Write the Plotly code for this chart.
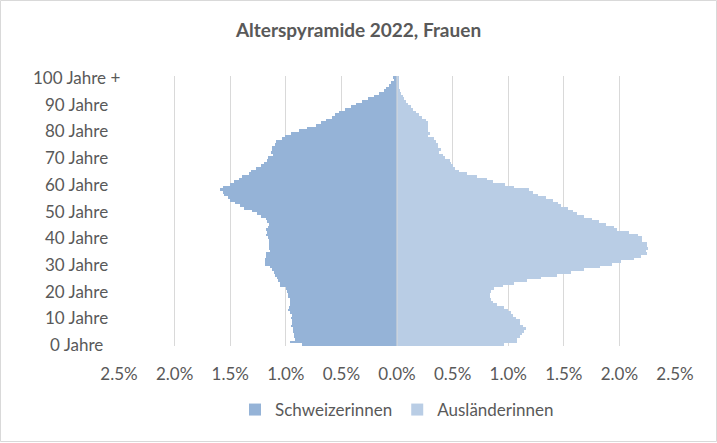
import plotly.graph_objects as go

ages = list(range(0, 101))

schweizerinnen = [
    0.852, 0.96, 0.915, 0.924, 0.924, 0.933, 0.933, 0.951, 0.942, 0.942,
    0.951, 0.942, 0.96, 0.978, 0.969, 0.96, 0.96, 0.96, 0.978, 0.978,
    0.987, 0.996, 1.05, 1.05, 1.068, 1.08, 1.095, 1.11, 1.12, 1.14,
    1.185, 1.185, 1.19, 1.18, 1.175, 1.145, 1.155, 1.15, 1.148, 1.148,
    1.16, 1.175, 1.167, 1.18, 1.16, 1.155, 1.17, 1.176, 1.221, 1.257,
    1.302, 1.374, 1.41, 1.455, 1.5, 1.518, 1.554, 1.563, 1.59, 1.563,
    1.5, 1.464, 1.419, 1.392, 1.329, 1.311, 1.266, 1.221, 1.194, 1.167,
    1.158, 1.116, 1.131, 1.122, 1.122, 1.095, 1.086, 1.032, 1.005, 0.951,
    0.879, 0.807, 0.726, 0.681, 0.636, 0.582, 0.555, 0.519, 0.465, 0.411,
    0.366, 0.312, 0.258, 0.204, 0.165, 0.12, 0.096, 0.069, 0.051, 0.03,
    0.04,
]

auslaenderinnen = [
    0.965, 1.082, 1.082, 1.109, 1.127, 1.145, 1.163, 1.136, 1.109, 1.109,
    1.073, 1.046, 1.028, 1.0, 0.965, 0.902, 0.866, 0.848, 0.839, 0.839,
    0.848, 0.875, 0.956, 1.055, 1.172, 1.298, 1.442, 1.568, 1.685, 1.829,
    1.936, 2.017, 2.134, 2.197, 2.251, 2.242, 2.26, 2.251, 2.251, 2.2,
    2.2, 2.17, 2.089, 1.98, 1.955, 1.883, 1.82, 1.757, 1.685, 1.62,
    1.586, 1.54, 1.478, 1.45, 1.406, 1.343, 1.27, 1.226, 1.19, 1.055,
    0.974, 0.866, 0.812, 0.722, 0.632, 0.56, 0.525, 0.5, 0.49, 0.48,
    0.435, 0.417, 0.38, 0.399, 0.372, 0.372, 0.354, 0.336, 0.282, 0.3,
    0.282, 0.282, 0.282, 0.282, 0.264, 0.228, 0.2, 0.174, 0.147, 0.129,
    0.102, 0.084, 0.066, 0.057, 0.039, 0.03, 0.02, 0.015, 0.012, 0.01,
    0.01,
]

y_tickvals = [0, 10, 20, 30, 40, 50, 60, 70, 80, 90, 100]
y_ticktext = ["0 Jahre", "10 Jahre", "20 Jahre", "30 Jahre", "40 Jahre", "50 Jahre",
              "60 Jahre", "70 Jahre", "80 Jahre", "90 Jahre", "100 Jahre +"]
x_tickvals = [-2.5, -2.0, -1.5, -1.0, -0.5, 0.0, 0.5, 1.0, 1.5, 2.0, 2.5]
x_ticktext = ["2.5%", "2.0%", "1.5%", "1.0%", "0.5%", "0.0%", "0.5%", "1.0%", "1.5%", "2.0%", "2.5%"]

W, H = 717, 443
ML, MR, MT, MB = 119, 42, 76, 97
PW, PH = W - ML - MR, H - MT - MB
LABEL_CENTER_PX = 76  # Excel centres the category labels in their label box

FONT = "Lato"
GREY = "#595959"

fig = go.Figure()
fig.add_trace(go.Bar(
    y=ages, x=[-v for v in schweizerinnen], orientation="h",
    name="Schweizerinnen", marker=dict(color="#95B3D7", line=dict(width=0)),
))
fig.add_trace(go.Bar(
    y=ages, x=auslaenderinnen, orientation="h",
    name="Ausländerinnen", marker=dict(color="#B9CDE5", line=dict(width=0)),
))

# category labels, centred like Excel does
for v, t in zip(y_tickvals, y_ticktext):
    fig.add_annotation(x=(LABEL_CENTER_PX - ML) / PW, xref="paper", y=v, yref="y",
                       text=t, showarrow=False, xanchor="center", yanchor="middle",
                       font=dict(family=FONT, size=17, color=GREY))

fig.update_layout(
    width=W, height=H,
    margin=dict(l=ML, r=MR, t=MT, b=MB, pad=0),
    paper_bgcolor="white", plot_bgcolor="white",
    barmode="relative", bargap=0,
    font=dict(family=FONT, color=GREY, size=17),
    title=dict(text="<b>Alterspyramide 2022, Frauen</b>", x=0.5, xanchor="center",
               xref="container", yref="container", y=1 - 30 / H, yanchor="middle",
               font=dict(family=FONT, size=19, color=GREY)),
    legend=dict(orientation="h", x=0.5, xanchor="center", y=(0 - 64) / PH, yanchor="middle",
                font=dict(family=FONT, size=17, color=GREY), traceorder="normal"),
    xaxis=dict(range=[-2.5, 2.5], tickvals=x_tickvals, ticktext=x_ticktext,
               showgrid=True, gridcolor="#d9d9d9", gridwidth=1, zeroline=False,
               showline=False, ticks="", ticklabelstandoff=16, fixedrange=True),
    yaxis=dict(range=[-0.5, 100.5], tickvals=y_tickvals, showticklabels=False,
               showgrid=False, zeroline=False, showline=False, ticks="",
               fixedrange=True),
    shapes=[
        dict(type="line", xref="x", yref="paper", x0=0, x1=0, y0=0, y1=1,
             line=dict(color="#d9d9d9", width=1), layer="above"),
        dict(type="rect", xref="paper", yref="paper",
             x0=(0.5 - ML) / PW, x1=(W - 0.5 - ML) / PW,
             y0=-(MB - 1.5) / PH, y1=1 + (MT - 0.5) / PH,
             line=dict(color="#d9d9d9", width=1), layer="below"),
    ],
)

fig.write_html("out.html", config={"displayModeBar": False},
               post_script="document.body.style.margin='0';document.body.style.overflow='hidden';")
